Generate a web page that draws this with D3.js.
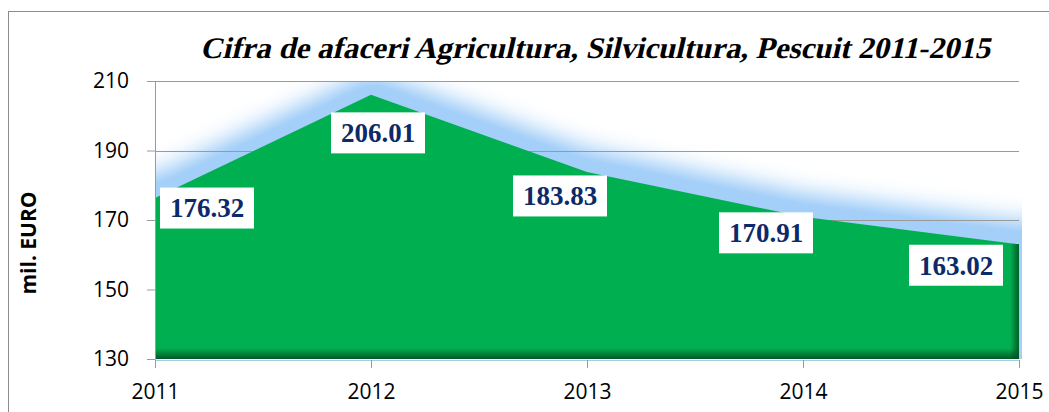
<!DOCTYPE html>
<html>
<head>
<meta charset="utf-8">
<script src="https://cdn.jsdelivr.net/npm/d3@7"></script>
<style>
  body { margin: 0; background: #fff; }
  .tick-label { font-family: "Open Sans", sans-serif; font-size: 21px; fill: #000; }
  .axis-title { font-family: "Open Sans", sans-serif; font-size: 21px; font-weight: bold; fill: #000; }
  .chart-title { font-family: "Liberation Serif", serif; font-size: 30px; font-weight: bold; fill: #000; }
  .value-label { font-family: "Liberation Serif", serif; font-size: 27px; font-weight: bold; fill: #0d2a68; }
</style>
</head>
<body>
<svg id="chart" width="1049" height="412"></svg>
<script>
// data
var years = [2011, 2012, 2013, 2014, 2015];
var values = [176.32, 206.01, 183.83, 170.91, 163.02];
var y_ticks = [130, 150, 170, 190, 210];
var title_text = "Cifra de afaceri Agricultura, Silvicultura, Pescuit 2011-2015";
var y_title = "mil. EURO";
// hand-placed label offsets (px) from each point, like in the original
var label_dx = [52, 7, -27, -37, -63];
var label_dy = [10, 38, 24, 16, 21];

var margin = {top: 81, left: 155};
var width = 864, height = 278;

var svg = d3.select("#chart");

// outer frame
svg.append("rect")
    .attr("x", 8.5).attr("y", 11.5)
    .attr("width", 1200).attr("height", 600)
    .attr("fill", "none").attr("stroke", "#8c8c8c");

var defs = svg.append("defs");

var glow = defs.append("filter").attr("id", "glow")
    .attr("x", "-10%").attr("y", "-60%").attr("width", "120%").attr("height", "200%");
glow.append("feOffset").attr("in", "SourceAlpha").attr("dy", -22).attr("result", "off");
glow.append("feGaussianBlur").attr("in", "off").attr("stdDeviation", 12).attr("result", "blur");
var ct = glow.append("feComponentTransfer").attr("in", "blur").attr("result", "boost");
ct.append("feFuncA").attr("type", "linear").attr("slope", 1.25).attr("intercept", 0);
glow.append("feFlood").attr("flood-color", "#a3cff8").attr("result", "col");
glow.append("feComposite").attr("in", "col").attr("in2", "boost").attr("operator", "in");

defs.append("clipPath").attr("id", "plot-clip")
    .append("rect").attr("x", 0).attr("y", 0).attr("width", width + 3).attr("height", height);

var bottom_grad = defs.append("linearGradient").attr("id", "bottom-shade")
    .attr("x1", 0).attr("y1", 0).attr("x2", 0).attr("y2", 1);
bottom_grad.append("stop").attr("offset", "0%").attr("stop-color", "#004a1e").attr("stop-opacity", 0);
bottom_grad.append("stop").attr("offset", "100%").attr("stop-color", "#004a1e").attr("stop-opacity", 0.85);

var right_grad = defs.append("linearGradient").attr("id", "right-shade")
    .attr("x1", 0).attr("y1", 0).attr("x2", 1).attr("y2", 0);
right_grad.append("stop").attr("offset", "0%").attr("stop-color", "#004a1e").attr("stop-opacity", 0);
right_grad.append("stop").attr("offset", "100%").attr("stop-color", "#004a1e").attr("stop-opacity", 0.8);

var g = svg.append("g").attr("transform", "translate(" + margin.left + "," + margin.top + ")");

var x = d3.scaleLinear().domain([years[0], years[years.length - 1]]).range([0, width]);
var y = d3.scaleLinear().domain([130, 210]).range([height, 0]);

var data = years.map(function (d, i) { return {year: d, value: values[i]}; });

var area = d3.area()
    .x(function (d) { return x(d.year); })
    .y0(height)
    .y1(function (d) { return y(d.value); });

// blue glow above the area (shape widened a bit so the blur stays solid at the edges)
var glow_data = [{px: x(years[0]) - 50, value: values[0]}]
    .concat(data.map(function (d) { return {px: x(d.year), value: d.value}; }))
    .concat([{px: x(years[years.length - 1]) + 50, value: values[values.length - 1]}]);
var glow_area = d3.area()
    .x(function (d) { return d.px; })
    .y0(height + 40)
    .y1(function (d) { return y(d.value); });

g.append("g").attr("clip-path", "url(#plot-clip)")
    .append("path")
    .datum(glow_data)
    .attr("d", glow_area)
    .attr("filter", "url(#glow)")
    .attr("fill", "#000");

// gridlines
g.selectAll(".grid")
    .data(y_ticks.filter(function (d) { return d > 130; }))
    .enter()
    .append("line")
    .attr("x1", 0).attr("x2", width)
    .attr("y1", function (d) { return Math.round(y(d)) + 0.5; })
    .attr("y2", function (d) { return Math.round(y(d)) + 0.5; })
    .attr("stroke", "#9a9a9a").attr("stroke-width", 1);

// the area itself
defs.append("clipPath").attr("id", "area-clip")
    .append("path").datum(data).attr("d", area);

g.append("path")
    .datum(data)
    .attr("d", area)
    .attr("fill", "#00b050");

var shade = g.append("g").attr("clip-path", "url(#area-clip)");
shade.append("rect")
    .attr("x", 0).attr("y", height - 11).attr("width", width).attr("height", 11)
    .attr("fill", "url(#bottom-shade)");
shade.append("rect")
    .attr("x", width - 9).attr("y", 0).attr("width", 9).attr("height", height)
    .attr("fill", "url(#right-shade)");

// y axis
var y_axis = g.append("g")
    .call(d3.axisLeft(y).tickValues(y_ticks).tickSize(8).tickPadding(18).tickFormat(d3.format("d")));
y_axis.select(".domain").attr("stroke", "#9a9a9a");
y_axis.selectAll(".tick line").attr("stroke", "#9a9a9a");
y_axis.selectAll(".tick text").attr("class", "tick-label").attr("font-family", null).attr("font-size", null);

// x axis
var x_axis = g.append("g")
    .attr("transform", "translate(0," + (height + 1) + ")")
    .call(d3.axisBottom(x).tickValues(years).tickSize(8).tickPadding(16).tickFormat(d3.format("d")));
x_axis.select(".domain").attr("stroke", "#a9c9ea");
x_axis.selectAll(".tick line").attr("stroke", "#9a9a9a");
x_axis.selectAll(".tick text").attr("class", "tick-label").attr("font-family", null).attr("font-size", null);

// value labels
var labels = g.selectAll(".value")
    .data(data)
    .enter()
    .append("g")
    .attr("transform", function (d, i) {
        return "translate(" + (x(d.year) + label_dx[i]) + "," + (y(d.value) + label_dy[i]) + ")";
    });
labels.append("rect")
    .attr("x", -47).attr("y", -20.5).attr("width", 94).attr("height", 41)
    .attr("fill", "#fff");
labels.append("text")
    .attr("class", "value-label")
    .attr("text-anchor", "middle")
    .attr("dy", "0.35em")
    .text(function (d) { return d3.format(".2f")(d.value); });

// titles (bold serif slanted by hand, the bold italic face is not available)
svg.append("text")
    .attr("class", "chart-title")
    .attr("transform", "translate(595,58) skewX(-13)")
    .attr("text-anchor", "middle")
    .attr("textLength", 790)
    .attr("lengthAdjust", "spacingAndGlyphs")
    .text(title_text);

svg.append("text")
    .attr("class", "axis-title")
    .attr("transform", "translate(36,243) rotate(-90)")
    .attr("text-anchor", "middle")
    .text(y_title);
</script>
</body>
</html>
